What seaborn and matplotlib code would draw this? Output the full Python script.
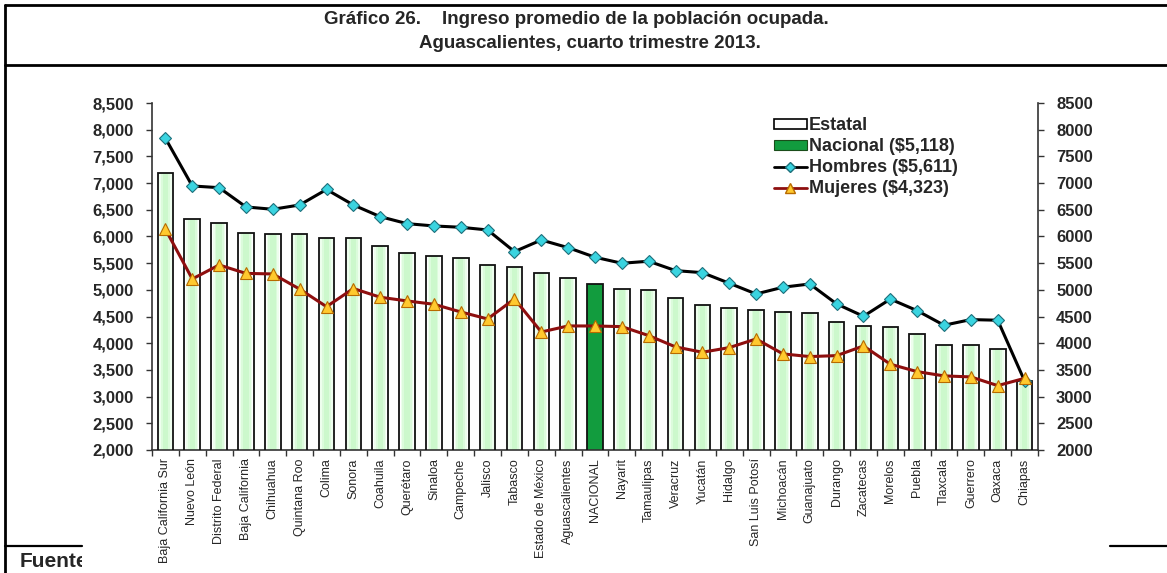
import numpy as np
import pandas as pd
import seaborn as sns
import matplotlib.pyplot as plt
from matplotlib.patches import Patch
from matplotlib.lines import Line2D
from matplotlib.ticker import FuncFormatter, MultipleLocator, FixedLocator
from matplotlib.transforms import Bbox, TransformedBbox

# Data
estados = ['Baja California Sur', 'Nuevo León', 'Distrito Federal', 'Baja California',
           'Chihuahua', 'Quintana Roo', 'Colima', 'Sonora', 'Coahuila', 'Querétaro',
           'Sinaloa', 'Campeche', 'Jalisco', 'Tabasco', 'Estado de México',
           'Aguascalientes', 'NACIONAL', 'Nayarit', 'Tamaulipas', 'Veracruz', 'Yucatán',
           'Hidalgo', 'San Luis Potosí', 'Michoacán', 'Guanajuato', 'Durango',
           'Zacatecas', 'Morelos', 'Puebla', 'Tlaxcala', 'Guerrero', 'Oaxaca', 'Chiapas']
estatal = [7195, 6320, 6245, 6065, 6050, 6040, 5966, 5966, 5828, 5685, 5635, 5603,
           5466, 5425, 5311, 5229, 5118, 5011, 4998, 4848, 4717, 4655, 4618, 4586,
           4567, 4393, 4324, 4311, 4165, 3974, 3974, 3887, 3300]
hombres = [7839, 6946, 6914, 6553, 6509, 6590, 6880, 6590, 6371, 6240, 6197, 6172,
           6122, 5716, 5934, 5790, 5611, 5498, 5536, 5360, 5322, 5124, 4923, 5049,
           5110, 4736, 4505, 4827, 4610, 4337, 4443, 4431, 3294]
mujeres = [6135, 5204, 5466, 5308, 5298, 5014, 4685, 5025, 4862, 4792, 4730, 4586,
           4455, 4830, 4211, 4324, 4323, 4311, 4143, 3931, 3831, 3918, 4080, 3800,
           3750, 3768, 3949, 3607, 3468, 3388, 3369, 3206, 3343]
leyenda = ['Estatal', 'Nacional ($5,118)', 'Hombres ($5,611)', 'Mujeres ($4,323)']

df = pd.DataFrame({'estado': estados, 'estatal': estatal,
                   'hombres': hombres, 'mujeres': mujeres})
df['pos'] = np.arange(len(df))

sns.set_style('white')
plt.rcParams['font.family'] = ['Liberation Sans', 'DejaVu Sans']

verde = '#129c3e'
fig = plt.figure(figsize=(11.67, 5.73), dpi=100)
ax = fig.add_axes([152 / 1167, 1 - 450 / 573, 886 / 1167, 347 / 573])

# bars: fake gradient (white edges, pale green centre)
capas = [(0.58, '#ffffff'), (0.46, '#eefeee'), (0.34, '#dcfbdc'), (0.2, '#ccf8cc')]
for w, c in capas:
    pal = {e: (verde if e == 'NACIONAL' else c) for e in estados}
    sns.barplot(data=df, x='estado', y='estatal', hue='estado', palette=pal,
                order=estados, width=w, legend=False, ax=ax, linewidth=0,
                saturation=1, zorder=2)
pal = {e: 'none' for e in estados}
sns.barplot(data=df, x='estado', y='estatal', hue='estado', palette=pal,
            order=estados, width=0.58, legend=False, ax=ax, linewidth=1.3,
            edgecolor='#111111', saturation=1, zorder=3)

sns.lineplot(data=df, x='pos', y='hombres', ax=ax, color='black', lw=2.2,
             marker='D', markersize=6.5, markerfacecolor='#3ad4e0',
             markeredgecolor='#1d6f7a', markeredgewidth=0.8, zorder=4)
sns.lineplot(data=df, x='pos', y='mujeres', ax=ax, color='#8e0f0f', lw=2.2,
             marker='^', markersize=8, markerfacecolor='#ffc92e',
             markeredgecolor='#b86a00', markeredgewidth=0.8, zorder=5)

ax.set_xlim(-0.5, len(estados) - 0.5)
ax.set_ylim(2000, 8500)
ax.yaxis.set_major_locator(MultipleLocator(500))
ax.yaxis.set_major_formatter(FuncFormatter(lambda v, p: f'{int(v):,}'))
ax.set_xlabel('')
ax.set_ylabel('')
ax.set_xticks(df['pos'])
ax.set_xticklabels(estados, rotation=90, fontsize=9)
ax.xaxis.set_minor_locator(FixedLocator(np.arange(len(estados) + 1) - 0.5))
ax.tick_params(axis='x', which='major', length=0, pad=6)
ax.tick_params(axis='x', which='minor', length=4, width=1, color='#333333',
               direction='out', bottom=True)
ax.tick_params(axis='y', length=4, width=1, color='#333333', direction='out',
               pad=9, labelsize=12, left=True)
for t in ax.get_yticklabels():
    t.set_fontweight('bold')
for s in ['top', 'right']:
    ax.spines[s].set_visible(False)
for s in ['left', 'bottom']:
    ax.spines[s].set_color('#333333')
    ax.spines[s].set_linewidth(1.2)

ax2 = ax.twinx()
ax2.set_ylim(2000, 8500)
ax2.yaxis.set_major_locator(MultipleLocator(500))
ax2.yaxis.set_major_formatter(FuncFormatter(lambda v, p: f'{int(v)}'))
ax2.tick_params(axis='y', length=4, width=1, color='#333333', direction='out',
                pad=9, labelsize=12, right=True)
for t in ax2.get_yticklabels():
    t.set_fontweight('bold')
for s in ['top', 'left', 'bottom']:
    ax2.spines[s].set_visible(False)
ax2.spines['right'].set_color('#333333')
ax2.spines['right'].set_linewidth(1.2)

handles = [
    Patch(facecolor='white', edgecolor='black', linewidth=1.2),
    Patch(facecolor=verde, edgecolor='#1a4d1a', linewidth=0.8),
    Line2D([], [], color='black', lw=2, marker='D', markersize=5,
           markerfacecolor='#3ad4e0', markeredgecolor='#1d6f7a'),
    Line2D([], [], color='#8e0f0f', lw=2, marker='^', markersize=7,
           markerfacecolor='#ffc92e', markeredgecolor='#b86a00'),
]
leg = ax2.legend(handles, leyenda, loc='upper left', bbox_to_anchor=(0.692, 0.985),
                 frameon=False, handlelength=1.8, handleheight=0.45,
                 handletextpad=0.12, labelspacing=0.22, borderpad=0,
                 prop={'weight': 'bold', 'size': 13})

# title box and frame
titulo_font = ['Liberation Sans Narrow', 'Liberation Sans', 'DejaVu Sans']
fig.text(576 / 1167, 1 - 20 / 573, 'Gráfico 26.    Ingreso promedio de la población ocupada.',
         ha='center', va='center', fontsize=13.5, fontweight='bold', family=titulo_font)
fig.text(590 / 1167, 1 - 44 / 573, 'Aguascalientes, cuarto trimestre 2013.',
         ha='center', va='center', fontsize=13.5, fontweight='bold', family=titulo_font)

def hline(y, x0, x1, lw=2):
    fig.add_artist(Line2D([x0 / 1167, x1 / 1167], [1 - y / 573, 1 - y / 573],
                          color='black', lw=lw))

hline(5, 5, 1167)
hline(65, 5, 1167)
hline(545.5, 5, 82, lw=1.6)
hline(545.5, 1110, 1167, lw=1.6)
fig.add_artist(Line2D([5 / 1167, 5 / 1167], [0, 1 - 5 / 573], color='black', lw=2))

fuente = fig.text(20 / 1167, 1 - 567 / 573, 'Fuente', ha='left', va='baseline',
                  fontsize=15, fontweight='bold')
fuente.set_clip_box(TransformedBbox(Bbox([[0, 0], [82 / 1167, 1]]), fig.transFigure))
fuente.set_clip_on(True)

fig.savefig('out.png', dpi=100)
